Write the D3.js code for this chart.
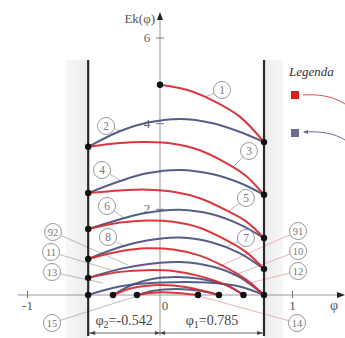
<!DOCTYPE html>
<html>
<head>
<meta charset="utf-8">
<script src="https://cdn.jsdelivr.net/npm/d3@7"></script>
<style>
  body { margin: 0; background: #fff; }
  svg text { font-family: "Liberation Serif", "DejaVu Serif", "Times New Roman", Times, serif !important; }
</style>
</head>
<body>
<svg id="chart" width="345" height="338"></svg>
<script>
// walls
const phi1 = 0.785;
const phi2 = -0.542;

// each curve: [phi, Ek], in order of motion
const c1  = [[0, 4.91], [0.2, 4.79], [0.4, 4.54], [0.6, 4.17], [0.785, 3.57]];
const c2  = [[0.785, 3.57], [0.6, 3.81], [0.4, 4.01], [0.15, 4.11], [-0.1, 4.02], [-0.3, 3.83], [-0.542, 3.46]];
const c3  = [[-0.542, 3.46], [-0.3, 3.55], [-0.1, 3.57], [0.1, 3.53], [0.3, 3.38], [0.5, 3.08], [0.65, 2.78], [0.785, 2.34]];
const c4  = [[0.785, 2.34], [0.6, 2.62], [0.4, 2.82], [0.15, 2.92], [-0.1, 2.84], [-0.3, 2.66], [-0.542, 2.38]];
const c5  = [[-0.542, 2.38], [-0.3, 2.44], [-0.1, 2.46], [0.1, 2.41], [0.3, 2.26], [0.5, 1.98], [0.65, 1.72], [0.785, 1.33]];
const c6  = [[0.785, 1.33], [0.6, 1.65], [0.4, 1.88], [0.15, 1.99], [-0.1, 1.92], [-0.3, 1.77], [-0.542, 1.54]];
const c7  = [[-0.542, 1.54], [-0.3, 1.69], [-0.1, 1.74], [0.1, 1.71], [0.3, 1.57], [0.5, 1.28], [0.65, 1.0], [0.785, 0.61]];
const c8  = [[0.785, 0.61], [0.6, 0.98], [0.4, 1.22], [0.15, 1.34], [-0.1, 1.27], [-0.3, 1.12], [-0.542, 0.84]];
const c91 = [[-0.542, 0.84], [-0.3, 1.02], [-0.1, 1.09], [0.1, 1.06], [0.3, 0.92], [0.5, 0.64], [0.65, 0.36], [0.785, 0]];
const c92 = [[0.785, 0], [0.6, 0.2], [0.35, 0.29], [0.1, 0.30], [-0.15, 0.26], [-0.35, 0.17], [-0.542, 0]];
const c10 = [[0.785, 0], [0.6, 0.42], [0.4, 0.66], [0.15, 0.77], [-0.1, 0.72], [-0.3, 0.61], [-0.542, 0.40]];
const c11 = [[-0.542, 0.40], [-0.3, 0.54], [-0.1, 0.58], [0.1, 0.56], [0.3, 0.44], [0.5, 0.23], [0.63, 0]];
const c12 = [[0.63, 0], [0.5, 0.23], [0.3, 0.38], [0.12, 0.42], [-0.05, 0.38], [-0.2, 0.25], [-0.355, 0]];
const c13 = [[-0.355, 0], [-0.2, 0.17], [-0.05, 0.23], [0.1, 0.22], [0.3, 0.12], [0.445, 0]];
const c14 = [[0.445, 0], [0.3, 0.10], [0.12, 0.14], [-0.05, 0.10], [-0.174, 0]];
const c15 = [[-0.174, 0], [-0.05, 0.055], [0.1, 0.055], [0.287, 0]];

const redCurves  = [c1, c3, c5, c7, c91, c11, c13, c15];
const blueCurves = [c2, c4, c6, c8, c92, c10, c12, c14];

// impact / turning points
const leftWallE  = [3.46, 2.38, 1.54, 0.84, 0.40, 0];
const rightWallE = [3.57, 2.34, 1.33, 0.61, 0];
const startPoint = [0, 4.91];
const stopPhi    = [-0.355, -0.174, 0.287, 0.445, 0.63];

const xTicks = [-1, 0, 1];
const yTicks = [2, 4, 6];

// circled labels: [text, cx, cy, leader x, leader y]
const callouts = [
  ["1", 222, 90, 205, 97], ["2", 106, 126, 121, 131],
  ["3", 249, 151, 233, 167], ["4", 102, 170, 120, 180],
  ["5", 246, 198, 229, 211], ["6", 107, 206, 124, 218],
  ["7", 246, 238, 228, 246], ["8", 108, 237, 124, 246],
  ["91", 298, 231, 218, 267], ["10", 298, 251, 232, 276],
  ["12", 298, 271, 246, 284], ["14", 297, 323, 199, 296],
  ["92", 53, 232, 128, 265], ["11", 51, 252, 118, 272],
  ["13", 52, 272, 103, 283], ["15", 52, 323, 137, 296]
];

const svg = d3.select("#chart");
const x = d3.scaleLinear().domain([-1, 1]).range([27.5, 292.5]);
const y = d3.scaleLinear().domain([0, 6]).range([295, 38]);

const red = "#d8262b";
const blue = "#48507e";

// shaded zones behind the walls
const band = svg.append("defs");
const gl = band.append("linearGradient").attr("id", "bandL");
gl.append("stop").attr("offset", "0%").attr("stop-color", "#f7f7f7");
gl.append("stop").attr("offset", "100%").attr("stop-color", "#ebebeb");
const gr = band.append("linearGradient").attr("id", "bandR");
gr.append("stop").attr("offset", "0%").attr("stop-color", "#ebebeb");
gr.append("stop").attr("offset", "100%").attr("stop-color", "#f7f7f7");
svg.append("rect").attr("x", x(phi2) - 22).attr("y", 60).attr("width", 22).attr("height", 278).attr("fill", "url(#bandL)");
svg.append("rect").attr("x", x(phi1)).attr("y", 60).attr("width", 19).attr("height", 278).attr("fill", "url(#bandR)");

// axes
svg.append("line").attr("x1", 18).attr("x2", 340).attr("y1", y(0)).attr("y2", y(0))
  .attr("stroke", "#999").attr("stroke-width", 1);
svg.append("path").attr("d", `M345,${y(0)} l-8,-3 l0,6 z`).attr("fill", "#222");
svg.append("line").attr("x1", x(0)).attr("x2", x(0)).attr("y1", 18).attr("y2", 336)
  .attr("stroke", "#999").attr("stroke-width", 1);
svg.append("path").attr("d", `M${x(0)},12 l-3,8 l6,0 z`).attr("fill", "#222");

xTicks.filter(d => d !== 0).forEach(d => {
  svg.append("line").attr("x1", x(d)).attr("x2", x(d)).attr("y1", y(0) - 4).attr("y2", y(0) + 3)
    .attr("stroke", "#777");
});
svg.selectAll(".xl").data(xTicks).enter().append("text")
  .attr("x", d => d === 0 ? x(d) + 5 : x(d))
  .attr("y", y(0) + 15)
  .attr("text-anchor", "middle").attr("font-size", 13).attr("fill", "#555")
  .text(d => d);
svg.append("text").attr("x", 334).attr("y", y(0) + 15).attr("text-anchor", "middle")
  .attr("font-size", 14).attr("fill", "#555").text("φ");

yTicks.forEach(d => {
  svg.append("line").attr("x1", x(0) - 4).attr("x2", x(0) + 4).attr("y1", y(d)).attr("y2", y(d))
    .attr("stroke", "#777");
});
svg.selectAll(".yl").data(yTicks).enter().append("text")
  .attr("x", x(0) - 13).attr("y", d => y(d) + 4)
  .attr("text-anchor", "middle").attr("font-size", 13).attr("fill", "#666")
  .text(d => d);
svg.append("text").attr("x", x(0) - 5).attr("y", 23).attr("text-anchor", "end")
  .attr("font-size", 13).attr("fill", "#555").text("Ek(φ)");

// leader lines and circled labels
const leaders = svg.append("g");
callouts.forEach(([t, cx, cy, lx, ly]) => {
  const a = Math.atan2(ly - cy, lx - cx);
  leaders.append("line")
    .attr("x1", cx + 8.5 * Math.cos(a)).attr("y1", cy + 8.5 * Math.sin(a))
    .attr("x2", lx).attr("y2", ly)
    .attr("stroke", cx > 280 ? "#e2a0a0" : "#a8a8a8").attr("stroke-width", 0.8);
});

// walls
[phi2, phi1].forEach(p => {
  svg.append("line").attr("x1", x(p)).attr("x2", x(p)).attr("y1", 60).attr("y2", 336)
    .attr("stroke", "#2a2a2a").attr("stroke-width", 2.2);
});

// curves
const line = d3.line().x(d => x(d[0])).y(d => y(d[1])).curve(d3.curveCatmullRom.alpha(0.5));
const order = [];
for (let i = 0; i < 8; i++) { order.push([blueCurves[i], blue]); }
for (let i = 0; i < 8; i++) { order.push([redCurves[i], red]); }
order.forEach(([c, col]) => {
  svg.append("path").attr("d", line(c)).attr("fill", "none")
    .attr("stroke", col).attr("stroke-width", 2).attr("stroke-opacity", 0.92);
});

// points
const dots = [startPoint]
  .concat(leftWallE.map(e => [phi2, e]))
  .concat(rightWallE.map(e => [phi1, e]))
  .concat(stopPhi.map(p => [p, 0]));
svg.selectAll(".dot").data(dots).enter().append("circle")
  .attr("cx", d => x(d[0])).attr("cy", d => y(d[1])).attr("r", 3.2).attr("fill", "#111");

// circles with numbers
callouts.forEach(([t, cx, cy]) => {
  svg.append("circle").attr("cx", cx).attr("cy", cy).attr("r", 8.5)
    .attr("fill", "#fff").attr("stroke", "#8c8c8c").attr("stroke-width", 0.9);
  svg.append("text").attr("x", cx).attr("y", cy + 4).attr("text-anchor", "middle")
    .attr("font-size", t.length > 1 ? 10.5 : 11.5).attr("fill", "#777").text(t);
});

// dimension line at bottom
const dimY = 333;
svg.append("line").attr("x1", x(phi2)).attr("x2", x(phi1)).attr("y1", dimY).attr("y2", dimY)
  .attr("stroke", "#444").attr("stroke-width", 0.8);
svg.append("path").attr("d", `M${x(phi2) + 1},${dimY} l6,-2 l0,4 z M${x(phi1) - 1},${dimY} l-6,-2 l0,4 z M${x(0)},${dimY} l-5,-2 l0,4 z M${x(0)},${dimY} l5,-2 l0,4 z`)
  .attr("fill", "#444");

const t2 = svg.append("text").attr("x", (x(phi2) + x(0)) / 2).attr("y", 325)
  .attr("text-anchor", "middle").attr("font-size", 14).attr("fill", "#444");
t2.append("tspan").text("φ");
t2.append("tspan").attr("font-size", 10).attr("dy", 3).text("2");
t2.append("tspan").attr("dy", -3).text("=-" + Math.abs(phi2).toFixed(3));
const t1 = svg.append("text").attr("x", (x(0) + x(phi1)) / 2).attr("y", 325)
  .attr("text-anchor", "middle").attr("font-size", 14).attr("fill", "#444");
t1.append("tspan").text("φ");
t1.append("tspan").attr("font-size", 10).attr("dy", 3).text("1");
t1.append("tspan").attr("dy", -3).text("=" + phi1.toFixed(3));

// legend (cut at the right edge)
svg.append("text").attr("x", 289).attr("y", 76).attr("font-size", 13)
  .attr("font-style", "italic").attr("fill", "#333").text("Legenda");
svg.append("rect").attr("x", 291).attr("y", 91).attr("width", 8).attr("height", 8).attr("fill", "#d81e1e");
svg.append("path").attr("d", "M303,95 C318,94 333,96 345,104").attr("fill", "none")
  .attr("stroke", "#d85050").attr("stroke-width", 1);
svg.append("rect").attr("x", 291).attr("y", 129).attr("width", 8).attr("height", 8).attr("fill", "#6a6a92");
svg.append("path").attr("d", "M304,132 C320,131 334,133 345,140").attr("fill", "none")
  .attr("stroke", "#6a6a9a").attr("stroke-width", 1);
svg.append("path").attr("d", "M303,132 l5,-2 l0,4 z").attr("fill", "#6a6a9a");
</script>
</body>
</html>
